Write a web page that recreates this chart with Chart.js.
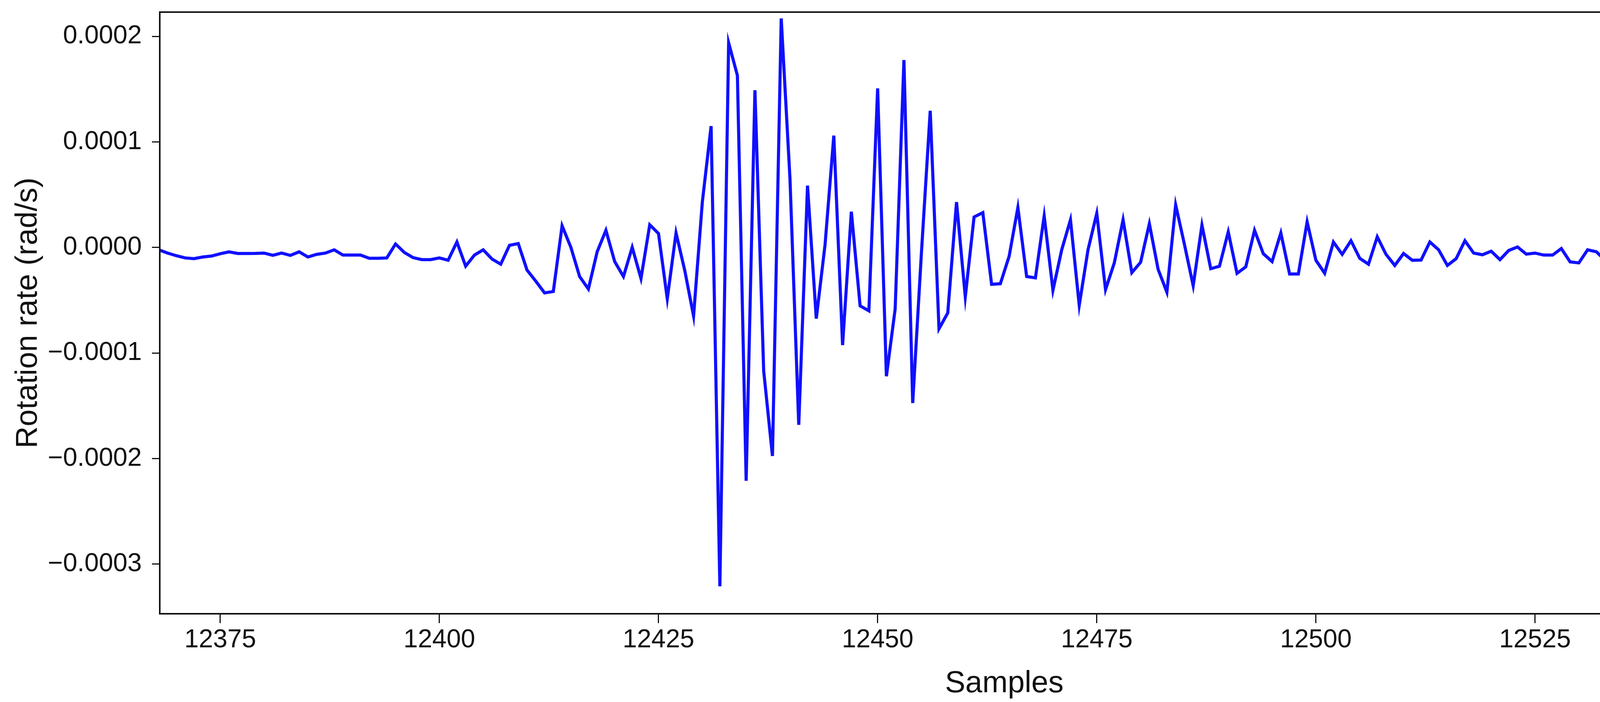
<!DOCTYPE html>
<html lang="en">
<head>
<meta charset="UTF-8">
<title>Rotation rate</title>
<style>
  html, body { margin: 0; padding: 0; background: #fff; overflow: hidden; }
  #rateChart { display: block; }
</style>
</head>
<body>
<canvas id="rateChart" width="4773" height="1798"></canvas>
<script src="https://cdn.jsdelivr.net/npm/chart.js"></script>
<script>
// sample numbers run on from here, one per value
const firstSample = 12368;

// rotation rate, in units of 1e-5 rad/s
const quietStart = [
  -0.22, -0.53, -0.78, -0.99, -1.06, -0.90, -0.81, -0.59, -0.41, -0.57,
  -0.57, -0.56, -0.53, -0.74, -0.53, -0.75, -0.41, -0.90, -0.65, -0.53,
  -0.22, -0.72, -0.72, -0.72, -1.02, -1.02, -0.99, 0.33, -0.47, -0.96,
  -1.15, -1.15, -0.99, -1.21
];
const buildUp = [
  0.52, -1.77, -0.72, -0.22, -1.09, -1.58, 0.21, 0.37, -2.14, -3.19,
  -4.30, -4.17, 2.06, 0.02, -2.75, -3.93, -0.41, 1.63, -1.33, -2.75,
  0.02, -2.94, 2.15, 1.32, -4.85, 1.38, -2.20, -6.50
];
const burst = [
  4.31, 11.5, -32.1, 19.4, 16.3, -22.1, 14.9, -11.7, -19.75, 21.7,
  6.5, -16.8, 5.86, -6.74, 0.26, 10.6, -9.25, 3.39, -5.53, -6.0,
  15.07, -12.2, -5.82, 17.76, -14.74, -0.45, 12.95, -7.7, -6.2, 4.3
];
const decay = [
  -4.67, 2.89, 3.30, -3.49, -3.43, -0.84, 3.79, -2.75, -2.88, 2.99,
  -4.05, -0.22, 2.62, -5.47, -0.22, 3.23, -3.99, -1.46, 2.62, -2.38,
  -1.40, 2.25, -2.07, -4.23, 4.04, 0.3, -3.62, 2.12, -2.01, -1.77,
  1.48, -2.45, -1.83, 1.63, -0.59, -1.33, 1.38, -2.51, -2.51, 2.43
];
const tail = [
  -1.21, -2.44, 0.52, -0.65, 0.64, -1.02, -1.58, 1.01, -0.65, -1.70,
  -0.57, -1.21, -1.19, 0.52, -0.22, -1.70, -1.06, 0.64, -0.53, -0.69,
  -0.35, -1.15, -0.28, 0.05, -0.63, -0.53, -0.72, -0.72, -0.10, -1.36,
  -1.46, -0.22, -0.41, -1.21, -0.69, -0.16, -0.57, -0.74, -0.59, -0.28,
  -0.72, -1.21, -0.53, 0.15, -0.90, -0.72, 0.40, -0.96, -1.27, 0.02,
  -0.65, -1.31, -0.44, -0.44, -1.15, -1.19, -0.16, -0.16, -0.72, -0.84,
  -0.72, -0.80
];

const xTicks = [12375, 12400, 12425, 12450, 12475, 12500, 12525, 12550];
const yTicks = [0.0002, 0.0001, 0, -0.0001, -0.0002, -0.0003];
const yTickLabels = ['0.0002', '0.0001', '0.0000', '\u22120.0001', '\u22120.0002', '\u22120.0003'];

const rates = [...quietStart, ...buildUp, ...burst, ...decay, ...tail];
const points = rates.map((r, i) => ({ x: firstSample + i, y: r * 1e-5 }));

const fontFamily = '"Liberation Sans", Arial, Helvetica, sans-serif';
const ink = '#111';

// box round the plot area (matplotlib style spines)
const frame = {
  id: 'frame',
  afterDraw(chart) {
    const { ctx, chartArea: a } = chart;
    ctx.save();
    ctx.strokeStyle = ink;
    ctx.lineWidth = 4;
    ctx.strokeRect(a.left, a.top, a.right - a.left, a.bottom - a.top);
    ctx.restore();
  }
};

const ctx = document.getElementById('rateChart').getContext('2d');
new Chart(ctx, {
  type: 'line',
  data: {
    datasets: [{
      data: points,
      borderColor: '#1010ff',
      borderWidth: 8,
      pointRadius: 0,
      tension: 0,
      fill: false,
      clip: 0
    }]
  },
  options: {
    responsive: false,
    devicePixelRatio: 1,
    animation: false,
    layout: { padding: { top: 31, right: 40, left: 0, bottom: 0 } },
    plugins: { legend: { display: false }, tooltip: { enabled: false } },
    scales: {
      x: {
        type: 'linear',
        min: 12368.1,
        max: 12560.8,
        afterBuildTicks: axis => { axis.ticks = xTicks.map(v => ({ value: v })); },
        afterFit: axis => {
          axis.height = 226;
          axis.paddingLeft = 0;
          axis.paddingRight = 0;
        },
        grid: { drawOnChartArea: false, drawTicks: true, tickLength: 24, tickWidth: 3, tickColor: ink },
        border: { display: false },
        ticks: {
          color: ink,
          font: { family: fontFamily, size: 66 },
          padding: 4,
          maxRotation: 0,
          autoSkip: false,
          callback: v => String(v)
        },
        title: {
          display: true,
          text: 'Samples',
          color: ink,
          font: { family: fontFamily, size: 78 },
          padding: 0
        }
      },
      y: {
        type: 'linear',
        min: -0.000347,
        max: 0.000223,
        afterBuildTicks: axis => { axis.ticks = yTicks.map(v => ({ value: v })); },
        afterFit: axis => {
          axis.width = 409;
          axis.paddingTop = 0;
          axis.paddingBottom = 0;
        },
        grid: { drawOnChartArea: false, drawTicks: true, tickLength: 20, tickWidth: 3, tickColor: ink },
        border: { display: false },
        ticks: {
          color: ink,
          font: { family: fontFamily, size: 66 },
          padding: 26,
          autoSkip: false,
          callback: (v, i) => yTickLabels[i]
        },
        title: {
          display: true,
          text: 'Rotation rate (rad/s)',
          color: ink,
          font: { family: fontFamily, size: 78 },
          padding: { top: 26, bottom: 0 }
        }
      }
    }
  },
  plugins: [frame]
});
</script>
</body>
</html>
